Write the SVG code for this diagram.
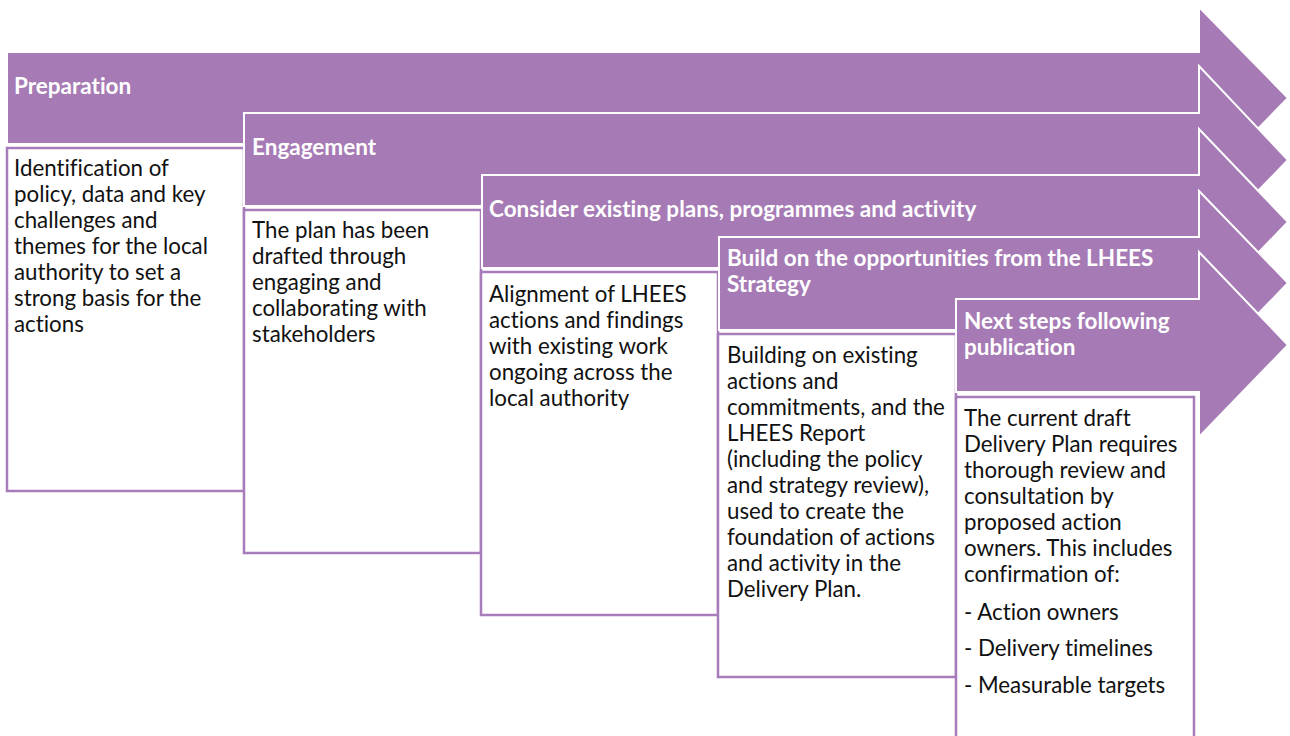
<svg xmlns="http://www.w3.org/2000/svg" width="1290" height="736" viewBox="0 0 1290 736">
<style>
.arrow{fill:#A67BB5;stroke:#FFFFFF;stroke-width:2}
.box{fill:#FFFFFF;stroke:#A87BBA;stroke-width:2.5}
.hd{font-family:Lato,"Liberation Sans",sans-serif;font-weight:bold;font-size:22.5px;fill:#FFFFFF;font-variant-ligatures:none}
.tx{font-family:Lato,"Liberation Sans",sans-serif;font-size:22.3px;fill:#111111;font-variant-ligatures:none}
</style>
<rect width="1290" height="736" fill="#FFFFFF"/>
<g id="step1">
<polygon class="arrow" points="7,52 1199,52 1199,7 1288,98 1199,189 1199,144 7,144"/>
<text class="hd" x="14" y="94">Preparation</text>
<rect class="box" x="7" y="148" width="237" height="343"/>
<text class="tx"><tspan x="14" y="176">Identification of</tspan><tspan x="14" y="202">policy, data and key</tspan><tspan x="14" y="228">challenges and</tspan><tspan x="14" y="254">themes for the local</tspan><tspan x="14" y="280">authority to set a</tspan><tspan x="14" y="306">strong basis for the</tspan><tspan x="14" y="332">actions</tspan></text>
</g>
<g id="step2">
<polygon class="arrow" points="244,113 1199,113 1199,66 1288,160 1199,252 1199,206 244,206"/>
<text class="hd" x="252" y="155">Engagement</text>
<rect class="box" x="244" y="210" width="237" height="343"/>
<text class="tx"><tspan x="252" y="238">The plan has been</tspan><tspan x="252" y="264">drafted through</tspan><tspan x="252" y="290">engaging and</tspan><tspan x="252" y="316">collaborating with</tspan><tspan x="252" y="342">stakeholders</tspan></text>
</g>
<g id="step3">
<polygon class="arrow" points="482,175 1199,175 1199,129 1288,222 1199,314 1199,268 482,268"/>
<text class="hd" x="489" y="217">Consider existing plans, programmes and activity</text>
<rect class="box" x="481" y="272" width="237" height="343"/>
<text class="tx"><tspan x="489" y="302">Alignment of LHEES</tspan><tspan x="489" y="328">actions and findings</tspan><tspan x="489" y="354">with existing work</tspan><tspan x="489" y="380">ongoing across the</tspan><tspan x="489" y="406">local authority</tspan></text>
</g>
<g id="step4">
<polygon class="arrow" points="719,237 1199,237 1199,191 1288,283 1199,375 1199,330 719,330"/>
<text class="hd"><tspan x="727" y="266">Build on the opportunities from the LHEES</tspan><tspan x="727" y="292">Strategy</tspan></text>
<rect class="box" x="718" y="334" width="238" height="343"/>
<text class="tx"><tspan x="727" y="363">Building on existing</tspan><tspan x="727" y="389">actions and</tspan><tspan x="727" y="415">commitments, and the</tspan><tspan x="727" y="441">LHEES Report</tspan><tspan x="727" y="467">(including the policy</tspan><tspan x="727" y="493">and strategy review),</tspan><tspan x="727" y="519">used to create the</tspan><tspan x="727" y="545">foundation of actions</tspan><tspan x="727" y="571">and activity in the</tspan><tspan x="727" y="597">Delivery Plan.</tspan></text>
</g>
<g id="step5">
<polygon class="arrow" points="956,299 1199,299 1199,252 1288,345 1199,437 1199,392 956,392"/>
<text class="hd"><tspan x="964" y="329">Next steps following</tspan><tspan x="964" y="355">publication</tspan></text>
<rect class="box" x="956" y="397" width="238" height="345"/>
<text class="tx"><tspan x="964" y="426">The current draft</tspan><tspan x="964" y="452">Delivery Plan requires</tspan><tspan x="964" y="478">thorough review and</tspan><tspan x="964" y="504">consultation by</tspan><tspan x="964" y="530">proposed action</tspan><tspan x="964" y="556">owners. This includes</tspan><tspan x="964" y="582">confirmation of:</tspan><tspan x="964" y="620">- Action owners</tspan><tspan x="964" y="656">- Delivery timelines</tspan><tspan x="964" y="693">- Measurable targets</tspan></text>
</g>
<g id="connectors"></g>
</svg>
